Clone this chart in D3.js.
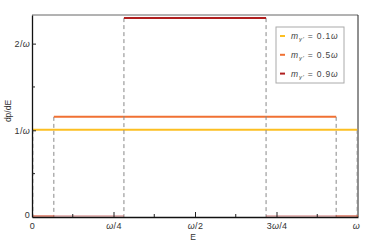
<!DOCTYPE html>
<html>
<head>
<meta charset="utf-8">
<script src="https://cdn.jsdelivr.net/npm/d3@7"></script>
<style>
  body { margin: 0; background: #fff; }
  svg { display: block; font-family: "Liberation Sans", Arial, sans-serif; }
</style>
</head>
<body>
<svg width="374" height="247"></svg>
<script>
// series (E in units of omega, height in units of 1/omega)
const masses = ['0.1', '0.5', '0.9'];
const colors = ['#fcbf22', '#f07133', '#b01f1f'];
const heights = [1.005, 1.155, 2.294];
const eMin = [0.0025, 0.067, 0.282];
const eMax = [0.9975, 0.933, 0.718];

const xTickVals = [0, 0.25, 0.5, 0.75, 1];
const xTickLabels = ['0', 'ω/4', 'ω/2', '3ω/4', 'ω'];
const xMinor = [0.125, 0.375, 0.625, 0.875];
const yTickVals = [0, 1, 2];
const yTickLabels = ['0', '1/ω', '2/ω'];
const yMinor = [0.5, 1.5];

const svg = d3.select('svg');
const plotL = 32, plotR = 358, plotT = 15, plotB = 217;

const x = d3.scaleLinear().domain([0, 1]).range([plotL, plotR]);
const y = d3.scaleLinear().domain([0, 2.33]).range([plotB, plotT]);

// top and right frame
svg.append('line')
    .attr('x1', plotL).attr('x2', plotR)
    .attr('y1', plotT).attr('y2', plotT)
    .attr('stroke', '#666').attr('stroke-width', 1);
svg.append('line')
    .attr('x1', plotR).attr('x2', plotR)
    .attr('y1', plotT).attr('y2', plotB)
    .attr('stroke', '#222').attr('stroke-width', 1);

// series
const g = svg.append('g');
masses.forEach(function (m, i) {
    // dashed verticals
    [eMin[i], eMax[i]].forEach(function (e) {
        g.append('line')
            .attr('x1', x(e)).attr('x2', x(e))
            .attr('y1', y(heights[i])).attr('y2', y(0))
            .attr('stroke', '#888').attr('stroke-width', 1)
            .attr('stroke-dasharray', '4,3');
    });
    // zero parts
    g.append('line')
        .attr('x1', x(0)).attr('x2', x(eMin[i]))
        .attr('y1', y(0) - 1).attr('y2', y(0) - 1)
        .attr('stroke', colors[i]).attr('stroke-width', 1.2).attr('opacity', 0.6);
    g.append('line')
        .attr('x1', x(eMax[i])).attr('x2', x(1))
        .attr('y1', y(0) - 1).attr('y2', y(0) - 1)
        .attr('stroke', colors[i]).attr('stroke-width', 1.2).attr('opacity', 0.6);
    // plateau
    g.append('line')
        .attr('x1', x(eMin[i])).attr('x2', x(eMax[i]))
        .attr('y1', y(heights[i])).attr('y2', y(heights[i]))
        .attr('stroke', colors[i]).attr('stroke-width', 2);
});

// axes with inward ticks
const xAxis = d3.axisBottom(x).tickValues(xTickVals)
    .tickSize(-5).tickSizeOuter(0).tickPadding(6)
    .tickFormat(function (d, i) { return xTickLabels[i]; });
const xg = svg.append('g').attr('transform', 'translate(0,' + plotB + ')').call(xAxis);
xg.selectAll('.tick').filter(function (d) { return d === 0 || d === 1; }).select('line').remove();
xMinor.forEach(function (d) {
    xg.append('line').attr('x1', x(d)).attr('x2', x(d)).attr('y1', 0).attr('y2', -3)
        .attr('stroke', '#222');
});

const yAxis = d3.axisLeft(y).tickValues(yTickVals)
    .tickSize(-4).tickSizeOuter(0).tickPadding(2)
    .tickFormat(function (d, i) { return yTickLabels[i]; });
const yg = svg.append('g').attr('transform', 'translate(' + plotL + ',0)').call(yAxis);
yg.selectAll('.tick').filter(function (d) { return d === 0; }).select('line').remove();
yMinor.forEach(function (d) {
    yg.append('line').attr('x1', 0).attr('x2', 3).attr('y1', y(d)).attr('y2', y(d))
        .attr('stroke', '#222');
});

[xg, yg].forEach(function (a) {
    a.select('.domain').attr('stroke', '#111').attr('stroke-width', 1.3);
    a.selectAll('.tick line').attr('stroke', '#222');
    a.selectAll('.tick text')
        .attr('font-size', 9).attr('fill', '#333')
        .attr('letter-spacing', 0.3)
        .style('font-family', '"Liberation Sans", Arial, sans-serif');
});
// omega in italic
[xg, yg].forEach(function (a) {
    a.selectAll('.tick text').each(function () {
        const t = d3.select(this);
        const s = t.text();
        t.text(null);
        s.split(/(ω)/).forEach(function (part) {
            if (!part) return;
            t.append('tspan').text(part)
                .attr('font-style', part === 'ω' ? 'italic' : null);
        });
    });
});
xg.selectAll('.tick').filter(function (d) { return d === 1; }).select('text').attr('dx', -2);
yg.selectAll('.tick').filter(function (d) { return d === 0; }).select('text').attr('dy', '0.1em');

// axis titles
svg.append('text')
    .attr('x', 193).attr('y', 240)
    .attr('text-anchor', 'middle')
    .attr('font-size', 8.5).attr('fill', '#333')
    .text('E');
svg.append('text')
    .attr('transform', 'translate(11,111) rotate(-90)')
    .attr('text-anchor', 'middle')
    .attr('font-size', 8.5).attr('fill', '#333')
    .text('dp/dE');

// legend
const lg = svg.append('g').attr('transform', 'translate(276,27)');
lg.append('rect')
    .attr('x', 0).attr('y', 0).attr('width', 68).attr('height', 56)
    .attr('fill', '#fff').attr('stroke', '#aaa').attr('stroke-width', 1);
masses.forEach(function (m, i) {
    const yy = 9 + i * 18.8;
    lg.append('line')
        .attr('x1', 4).attr('x2', 9).attr('y1', yy).attr('y2', yy)
        .attr('stroke', colors[i]).attr('stroke-width', 2);
    const t = lg.append('text')
        .attr('x', 15).attr('y', yy + 3)
        .attr('font-size', 8.5).attr('fill', '#444')
        .attr('letter-spacing', 0.8);
    t.append('tspan').attr('font-style', 'italic').text('m');
    t.append('tspan').attr('font-size', 6).attr('font-style', 'italic').attr('dy', 2).text('γ′');
    t.append('tspan').attr('dy', -2).text(' = ' + m);
    t.append('tspan').attr('font-style', 'italic').text('ω');
});
</script>
</body>
</html>
